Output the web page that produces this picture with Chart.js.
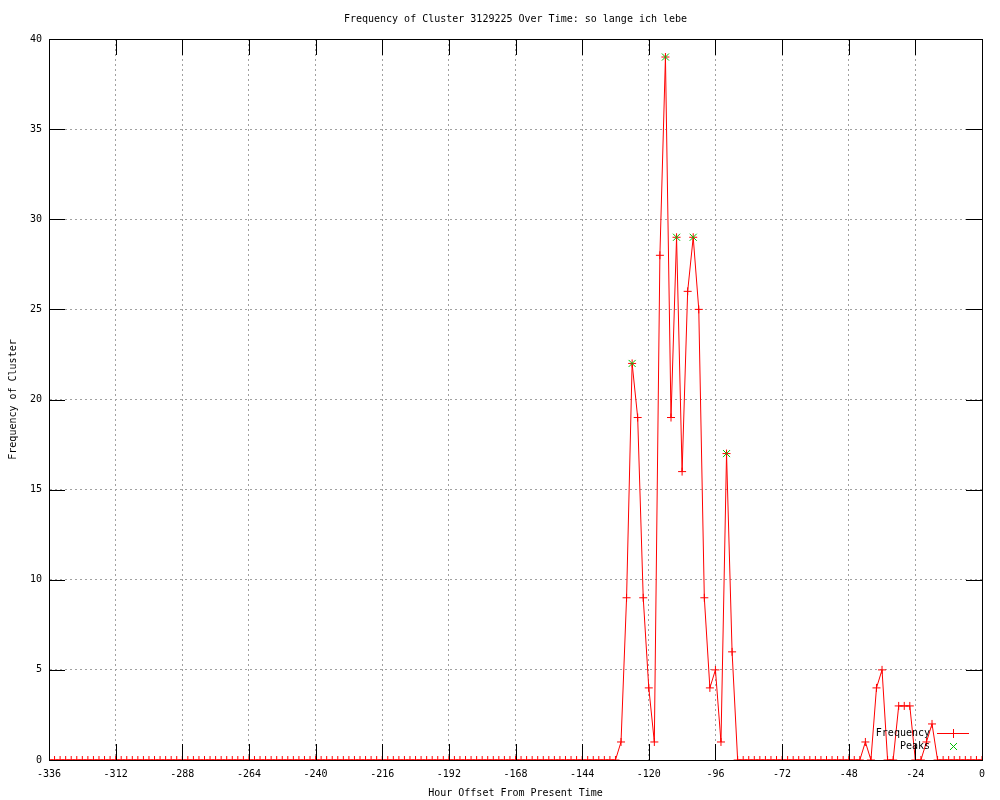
<!DOCTYPE html>
<html>
<head>
<meta charset="utf-8">
<title>Frequency of Cluster 3129225</title>
<script src="https://cdn.jsdelivr.net/npm/chart.js@4.4.1/dist/chart.umd.min.js"></script>
<style>
  body { margin: 0; background: #fff; }
  canvas { display: block; }
</style>
</head>
<body>
<canvas id="myChart" width="1000" height="800"></canvas>
<script>
const hours = [
  -336, -334, -332, -330, -328, -326, -324, -322, -320, -318, -316, -314,
  -312, -310, -308, -306, -304, -302, -300, -298, -296, -294, -292, -290,
  -288, -286, -284, -282, -280, -278, -276, -274, -272, -270, -268, -266,
  -264, -262, -260, -258, -256, -254, -252, -250, -248, -246, -244, -242,
  -240, -238, -236, -234, -232, -230, -228, -226, -224, -222, -220, -218,
  -216, -214, -212, -210, -208, -206, -204, -202, -200, -198, -196, -194,
  -192, -190, -188, -186, -184, -182, -180, -178, -176, -174, -172, -170,
  -168, -166, -164, -162, -160, -158, -156, -154, -152, -150, -148, -146,
  -144, -142, -140, -138, -136, -134, -132, -130, -128, -126, -124, -122,
  -120, -118, -116, -114, -112, -110, -108, -106, -104, -102, -100, -98,
  -96, -94, -92, -90, -88, -86, -84, -82, -80, -78, -76, -74,
  -72, -70, -68, -66, -64, -62, -60, -58, -56, -54, -52, -50,
  -48, -46, -44, -42, -40, -38, -36, -34, -32, -30, -28, -26,
  -24, -22, -20, -18, -16, -14, -12, -10, -8, -6, -4, -2,
  0
];

const frequency = [
  0, 0, 0, 0, 0, 0, 0, 0, 0, 0, 0, 0,
  0, 0, 0, 0, 0, 0, 0, 0, 0, 0, 0, 0,
  0, 0, 0, 0, 0, 0, 0, 0, 0, 0, 0, 0,
  0, 0, 0, 0, 0, 0, 0, 0, 0, 0, 0, 0,
  0, 0, 0, 0, 0, 0, 0, 0, 0, 0, 0, 0,
  0, 0, 0, 0, 0, 0, 0, 0, 0, 0, 0, 0,
  0, 0, 0, 0, 0, 0, 0, 0, 0, 0, 0, 0,
  0, 0, 0, 0, 0, 0, 0, 0, 0, 0, 0, 0,
  0, 0, 0, 0, 0, 0, 0, 1, 9, 22, 19, 9,
  4, 1, 28, 39, 19, 29, 16, 26, 29, 25, 9, 4,
  5, 1, 17, 6, 0, 0, 0, 0, 0, 0, 0, 0,
  0, 0, 0, 0, 0, 0, 0, 0, 0, 0, 0, 0,
  0, 0, 0, 1, 0, 4, 5, 0, 0, 3, 3, 3,
  0, 0, 1, 2, 0, 0, 0, 0, 0, 0, 0, 0,
  0
];

const peakHours = [-126, -114, -110, -104, -92];
const peakValues = [22, 39, 29, 29, 17];

const xTicks = [-336, -312, -288, -264, -240, -216, -192, -168, -144, -120, -96, -72, -48, -24, 0];
const yTicks = [0, 5, 10, 15, 20, 25, 30, 35, 40];

const MONO = '"DejaVu Sans Mono", "Liberation Mono", monospace';
const RED = 'rgb(255, 0, 0)';
const GREEN = 'rgb(0, 192, 0)';

// gnuplot look: border box with inward tick marks on all four sides
const gnuplotFrame = {
  id: 'gnuplotFrame',
  afterDatasetsDraw(chart) {
    const { ctx, chartArea: a, scales } = chart;
    const tl = 16;
    ctx.save();
    ctx.setLineDash([]);
    ctx.strokeStyle = '#000';
    ctx.lineWidth = 1;
    ctx.beginPath();
    yTicks.forEach(v => {
      const y = Math.round(scales.y.getPixelForValue(v)) + 0.5;
      ctx.moveTo(a.left, y); ctx.lineTo(a.left + tl, y);
      ctx.moveTo(a.right, y); ctx.lineTo(a.right - tl, y);
    });
    xTicks.forEach(v => {
      const x = Math.round(scales.x.getPixelForValue(v)) + 0.5;
      ctx.moveTo(x, a.bottom); ctx.lineTo(x, a.bottom - tl);
      ctx.moveTo(x, a.top); ctx.lineTo(x, a.top + tl);
    });
    ctx.stroke();
    ctx.strokeRect(Math.round(a.left) + 0.5, Math.round(a.top) + 0.5,
      Math.round(a.right - a.left), Math.round(a.bottom - a.top));
    ctx.restore();
  },
  // key in the bottom right corner of the plot
  afterDraw(chart) {
    const { ctx, chartArea: a } = chart;
    const textRight = Math.round(a.right) - 52;
    const sampleL = Math.round(a.right) - 45, sampleR = Math.round(a.right) - 13;
    const mark = Math.round(a.right) - 29;
    const row1 = Math.round(a.bottom) - 27, row2 = Math.round(a.bottom) - 14;

    ctx.save();
    ctx.setLineDash([]);
    ctx.lineWidth = 1;
    ctx.font = '10px ' + MONO;
    ctx.fillStyle = '#000';
    ctx.textAlign = 'right';
    ctx.textBaseline = 'middle';
    ctx.fillText('Frequency', textRight, row1);
    ctx.fillText('Peaks', textRight, row2);
    ctx.restore();

    ctx.save();
    ctx.setLineDash([]);
    ctx.lineWidth = 1;
    ctx.strokeStyle = RED;
    ctx.beginPath();
    ctx.moveTo(sampleL, row1 + 0.5);
    ctx.lineTo(sampleR, row1 + 0.5);
    ctx.moveTo(mark + 0.5, row1 - 4);
    ctx.lineTo(mark + 0.5, row1 + 5);
    ctx.stroke();
    ctx.restore();

    ctx.save();
    ctx.setLineDash([]);
    ctx.lineWidth = 1;
    ctx.strokeStyle = GREEN;
    ctx.beginPath();
    ctx.moveTo(mark - 3, row2 - 3);
    ctx.lineTo(mark + 4, row2 + 4);
    ctx.moveTo(mark + 4, row2 - 3);
    ctx.lineTo(mark - 3, row2 + 4);
    ctx.stroke();
    ctx.restore();
  }
};

const config = {
  type: 'line',
  data: {
    datasets: [
      {
        label: 'Frequency',
        data: hours.map((h, i) => ({ x: h, y: frequency[i] })),
        borderColor: RED,
        borderWidth: 1,
        pointStyle: 'cross',
        pointRadius: 4,
        pointBorderColor: RED,
        pointBorderWidth: 1,
        fill: false,
        tension: 0,
        order: 2,
      },
      {
        label: 'Peaks',
        data: peakHours.map((h, i) => ({ x: h, y: peakValues[i] })),
        showLine: false,
        pointStyle: 'crossRot',
        pointRadius: 5,
        pointBorderColor: GREEN,
        pointBorderWidth: 1,
        order: 1,
      },
    ],
  },
  options: {
    responsive: false,
    animation: false,
    devicePixelRatio: 1,
    layout: { padding: { left: 0, right: 18, top: 0, bottom: 0 } },
    plugins: {
      legend: { display: false },
      tooltip: { enabled: false },
      title: {
        display: true,
        text: 'Frequency of Cluster 3129225 Over Time: so lange ich lebe',
        color: '#000',
        fullSize: false,
        font: { family: MONO, size: 10, weight: 'normal' },
        padding: { top: 13, bottom: 14 },
      },
    },
    scales: {
      x: {
        type: 'linear',
        min: -336,
        max: 0,
        afterFit: s => { s.height = 40; },
        afterBuildTicks: s => { s.ticks = xTicks.map(v => ({ value: v })); },
        ticks: {
          autoSkip: false,
          maxRotation: 0,
          color: '#000',
          padding: 8,
          font: { family: MONO, size: 10 },
          callback: v => String(v),
        },
        grid: { color: '#a0a0a0', drawTicks: false },
        border: { display: true, color: '#000', dash: [2, 3] },
        title: {
          display: true,
          text: 'Hour Offset From Present Time',
          color: '#000',
          font: { family: MONO, size: 10 },
          padding: { top: 0, bottom: 1 },
        },
      },
      y: {
        min: 0,
        max: 40,
        afterFit: s => { s.width = 49; },
        afterBuildTicks: s => { s.ticks = yTicks.map(v => ({ value: v })); },
        ticks: {
          color: '#000',
          padding: 7,
          font: { family: MONO, size: 10 },
          callback: v => String(v),
        },
        grid: { color: '#a0a0a0', drawTicks: false },
        border: { display: true, color: '#000', dash: [2, 3] },
        title: {
          display: true,
          text: 'Frequency of Cluster',
          color: '#000',
          font: { family: MONO, size: 10 },
          padding: { top: 7, bottom: 0 },
        },
      },
    },
  },
  plugins: [gnuplotFrame],
};

new Chart(document.getElementById('myChart'), config);
</script>
</body>
</html>
